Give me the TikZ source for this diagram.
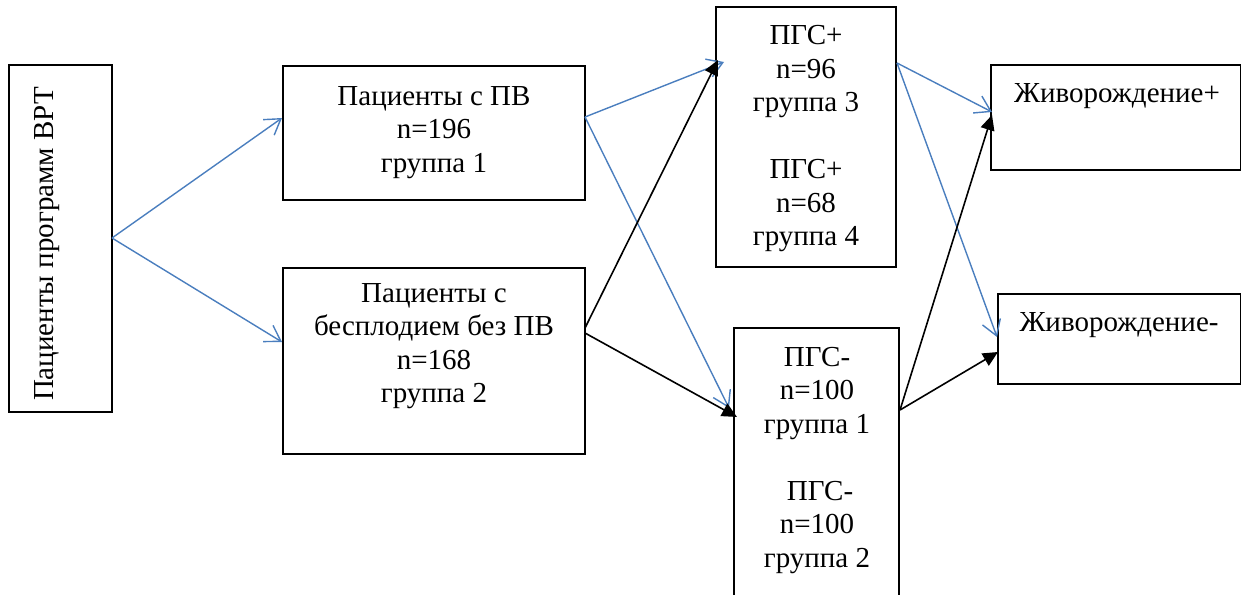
\documentclass[tikz,border=0pt]{standalone}
\usepackage{fontspec}
\setmainfont{Liberation Serif}
\usetikzlibrary{arrows.meta}
\definecolor{linkblue}{RGB}{74,126,190}
\tikzset{
  box/.style={draw=black, line width=1.2pt, inner sep=0pt, fill=none},
  txt/.style={align=center, inner sep=0pt, font=\fontsize{29}{33.5}\selectfont},
  bluearrow/.style={draw=linkblue, line width=1.4pt,
    -{Straight Barb[length=15pt,width=19pt,line width=1.4pt]}},
  blackarrow/.style={draw=black, line width=1.6pt,
    -{Triangle[length=15pt,width=14pt]}}
}
\begin{document}
\begin{tikzpicture}[x=1pt,y=-1pt]
\useasboundingbox (0,0) rectangle (1241,594);
\clip (0,0) rectangle (1241,594);

% boxes
\node[box, minimum width=103pt, minimum height=347pt] (A) at (60.5,238.5) {};
\node[box, minimum width=302pt, minimum height=134pt] (B1) at (434,133) {};
\node[box, minimum width=302pt, minimum height=186pt] (B2) at (434,361) {};
\node[box, minimum width=180pt, minimum height=260pt] (C1) at (806,137) {};
\node[box, minimum width=165pt, minimum height=300pt] (C2) at (816.5,478) {};
\node[box, minimum width=250pt, minimum height=105pt] (D1) at (1116,117.5) {};
\node[box, minimum width=243pt, minimum height=90pt] (D2) at (1119.5,339) {};

% texts
\node[txt, rotate=90] (tA) at (47,244) {Пациенты программ ВРТ};
\node[txt] (tB1) at (434,132.5) {Пациенты с ПВ\\n=196\\группа 1};
\node[txt] (tB2) at (434,346) {Пациенты с\\бесплодием без ПВ\\n=168\\группа 2};
\node[txt] (tC1) at (806,139) {ПГС+\\n=96\\группа 3\\[33.5pt]ПГС+\\n=68\\группа 4};
\node[txt] (tC2) at (817,460.5) {ПГС-\\n=100\\группа 1\\[33.5pt]\hspace*{6pt}ПГС-\\n=100\\группа 2};
\node[txt] (tD1) at (1117,96) {Живорождение+};
\node[txt] (tD2) at (1119,325.5) {Живорождение-};

% connector end points
\coordinate (aOut) at (112,238);
\coordinate (b1In) at (282,118);
\coordinate (b2In) at (282,342);
\coordinate (b1Out) at (585,117);
\coordinate (b2OutUp) at (585,328);
\coordinate (b2OutDn) at (585,333);
\coordinate (c1InBlue) at (724,62);
\coordinate (c1InBlack) at (718,60);
\coordinate (c2InBlue) at (729,408);
\coordinate (c2InBlack) at (737,417);
\coordinate (c1Out) at (897,63);
\coordinate (c2Out) at (900,410);
\coordinate (d1InBlue) at (992,112);
\coordinate (d1InBlack) at (992,115);
\coordinate (d2InBlue) at (997,337);
\coordinate (d2InBlack) at (998,352);

% connectors
\draw[bluearrow] (aOut) -- (b1In);
\draw[bluearrow] (aOut) -- (b2In);
\draw[bluearrow] (b1Out) -- (c1InBlue);
\draw[bluearrow] (b1Out) -- (c2InBlue);
\draw[blackarrow] (b2OutUp) -- (c1InBlack);
\draw[blackarrow] (b2OutDn) -- (c2InBlack);
\draw[bluearrow] (c1Out) -- (d1InBlue);
\draw[bluearrow] (c1Out) -- (d2InBlue);
\draw[blackarrow] (c2Out) -- (d1InBlack);
\draw[blackarrow] (c2Out) -- (d2InBlack);
\end{tikzpicture}
\end{document}
